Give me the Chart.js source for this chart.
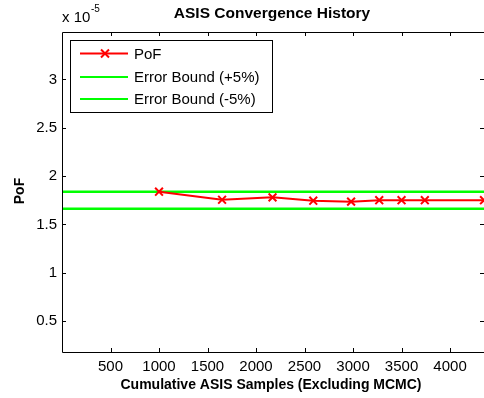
<!DOCTYPE html>
<html>
<head>
<meta charset="utf-8">
<script src="https://cdn.jsdelivr.net/npm/chart.js@4.4.0/dist/chart.umd.min.js"></script>
<style>
  body { margin: 0; background: #fff; }
  #wrap { width: 484px; height: 398px; }
</style>
</head>
<body>
<div id="wrap"><canvas id="myChart" width="484" height="398"></canvas></div>
<script>
// values in units of 1e-5
let samples = [1000, 1650, 2170, 2590, 2980, 3270, 3500, 3740, 4350]
let pof = [1.838, 1.755, 1.78, 1.745, 1.735, 1.75, 1.75, 1.75, 1.75]
let boundX = [0, 4350]
let upperBound = [1.838, 1.838]
let lowerBound = [1.663, 1.663]
let xTicks = [500, 1000, 1500, 2000, 2500, 3000, 3500, 4000]
let yTicks = [0.5, 1, 1.5, 2, 2.5, 3]

const FONT = 'Liberation Sans, Arial, sans-serif'

let toPoints = (xs, ys) => xs.map((x, i) => ({x: x, y: ys[i]}))

// MATLAB-ish box, inward ticks, titles and a legend inside the axes
const matlabDeco = {
  id: 'matlabDeco',
  afterDraw(chart) {
    const ctx = chart.ctx
    const a = chart.chartArea
    const xs = chart.scales.x
    const ys = chart.scales.y
    ctx.save()
    ctx.strokeStyle = '#000'
    ctx.lineWidth = 1
    ctx.beginPath()
    ctx.rect(a.left + 0.5, a.top + 0.5, a.right - a.left, a.bottom - a.top)
    ctx.stroke()
    ctx.beginPath()
    xTicks.forEach(v => {
      let px = Math.round(xs.getPixelForValue(v)) + 0.5
      ctx.moveTo(px, a.bottom); ctx.lineTo(px, a.bottom - 4)
      ctx.moveTo(px, a.top); ctx.lineTo(px, a.top + 4)
    })
    yTicks.forEach(v => {
      let py = Math.round(ys.getPixelForValue(v)) + 0.5
      ctx.moveTo(a.left, py); ctx.lineTo(a.left + 4, py)
      ctx.moveTo(a.right - 4, py); ctx.lineTo(a.right, py)
    })
    ctx.stroke()

    // title
    ctx.fillStyle = '#000'
    ctx.textAlign = 'center'
    ctx.textBaseline = 'middle'
    ctx.font = 'bold 15.5px ' + FONT
    ctx.fillText('ASIS Convergence History', 272, 14)
    // x label
    ctx.font = 'bold 14px ' + FONT
    ctx.fillText('Cumulative ASIS Samples (Excluding MCMC)', 271, 385)
    // y label
    ctx.save()
    ctx.translate(20, 191)
    ctx.rotate(-Math.PI / 2)
    ctx.fillText('PoF', 0, 0)
    ctx.restore()
    // exponent
    ctx.textAlign = 'left'
    ctx.font = '15px ' + FONT
    ctx.fillText('x 10', 62, 18)
    ctx.font = '10px ' + FONT
    ctx.fillText('-5', 91, 9)

    // legend
    let lx = 70, ly = 40, lw = 202, lh = 72
    ctx.fillStyle = '#fff'
    ctx.fillRect(lx, ly, lw, lh)
    ctx.strokeStyle = '#000'
    ctx.lineWidth = 1
    ctx.strokeRect(lx + 0.5, ly + 0.5, lw, lh)
    let rows = [53.5, 77, 99]
    chart.data.datasets.forEach((ds, i) => {
      let yy = rows[i]
      ctx.strokeStyle = ds.borderColor
      ctx.lineWidth = 2
      ctx.beginPath()
      ctx.moveTo(80, yy); ctx.lineTo(128, yy)
      ctx.stroke()
      if (ds.pointStyle === 'crossRot') {
        ctx.beginPath()
        ctx.moveTo(101, yy - 4); ctx.lineTo(109, yy + 4)
        ctx.moveTo(109, yy - 4); ctx.lineTo(101, yy + 4)
        ctx.stroke()
      }
      ctx.fillStyle = '#000'
      ctx.font = '15px ' + FONT
      ctx.textBaseline = 'middle'
      ctx.fillText(ds.label, 134, yy + 1)
    })
    ctx.restore()
  }
}

const data = {
  datasets: [{
    label: 'PoF',
    data: toPoints(samples, pof),
    borderColor: '#ff0000',
    backgroundColor: '#ff0000',
    borderWidth: 2,
    pointStyle: 'crossRot',
    pointRadius: 5.5,
    pointBorderWidth: 2,
    tension: 0,
    order: 0
  }, {
    label: 'Error Bound (+5%)',
    data: toPoints(boundX, upperBound),
    borderColor: '#00ff00',
    borderWidth: 2.5,
    pointRadius: 0,
    order: 1
  }, {
    label: 'Error Bound (-5%)',
    data: toPoints(boundX, lowerBound),
    borderColor: '#00ff00',
    borderWidth: 2.5,
    pointRadius: 0,
    order: 1
  }]
}

const config = {
  type: 'line',
  data: data,
  options: {
    responsive: false,
    animation: false,
    layout: { autoPadding: false, padding: { top: 32, right: 0, left: 0, bottom: 0 } },
    plugins: { legend: { display: false }, tooltip: { enabled: false } },
    scales: {
      x: {
        type: 'linear',
        min: 0,
        max: 4350,
        afterBuildTicks: s => { s.ticks = xTicks.map(v => ({value: v})) },
        afterFit: s => { s.height = 46; s.paddingRight = 0; s.paddingLeft = 0 },
        grid: { display: false, drawTicks: false },
        border: { display: false },
        ticks: { color: '#000', font: { family: FONT, size: 15 }, padding: 6, maxRotation: 0,
                 callback: v => String(v) }
      },
      y: {
        type: 'linear',
        min: 0.18,
        max: 3.49,
        afterBuildTicks: s => { s.ticks = yTicks.map(v => ({value: v})) },
        afterFit: s => { s.width = 62; s.paddingTop = 0; s.paddingBottom = 0 },
        grid: { display: false, drawTicks: false },
        border: { display: false },
        ticks: { color: '#000', font: { family: FONT, size: 15 }, padding: 5,
                 callback: v => String(v) }
      }
    }
  },
  plugins: [matlabDeco]
}

var myChart = new Chart(document.getElementById('myChart'), config)
</script>
</body>
</html>
